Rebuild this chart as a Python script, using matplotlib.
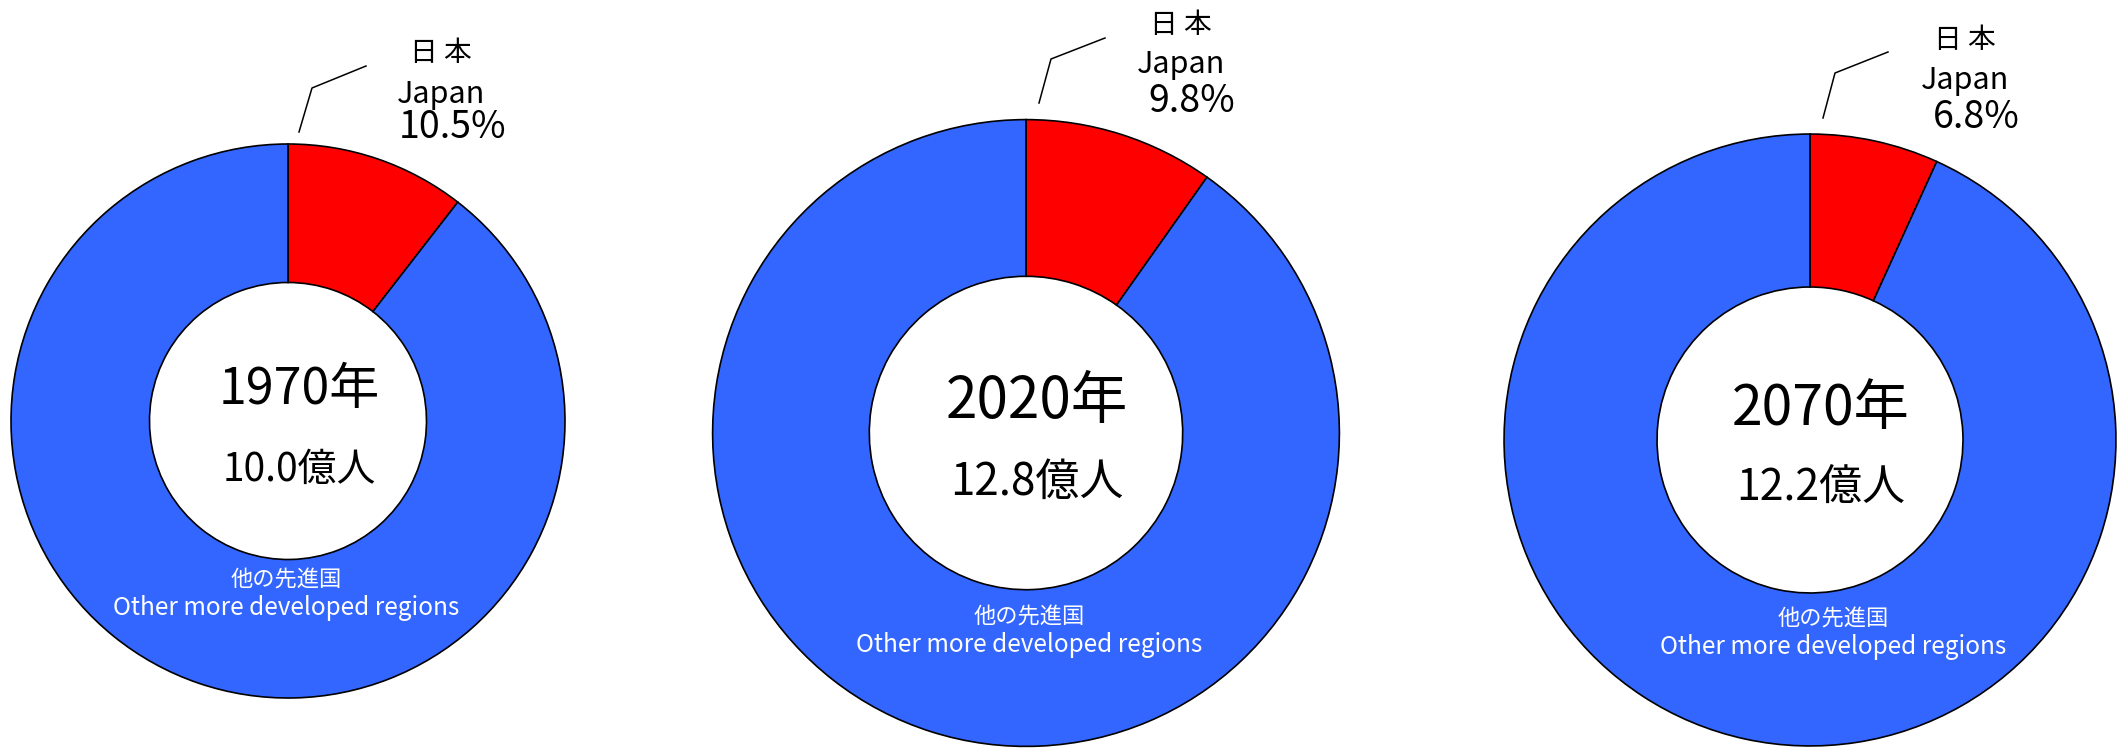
import matplotlib
matplotlib.use('Agg')
import matplotlib.pyplot as plt
import numpy as np

plt.rcParams['font.family'] = ['Noto Sans CJK JP', 'DejaVu Sans']

# データ
years = ['1970年', '2020年', '2070年']
population = [10.0, 12.8, 12.2]      # 先進地域の人口(億人)
japan_share = [10.5, 9.8, 6.8]       # 日本の割合(%)
other_label = '他の先進国\nOther more developed regions'

RED = '#FF0000'
BLUE = '#3366FF'

W, H = 2125, 749
fig = plt.figure(figsize=(W / 100, H / 100), dpi=100)
ax = fig.add_axes([0, 0, 1, 1])
ax.set_xlim(0, W)
ax.set_ylim(0, H)
ax.set_aspect('equal')
ax.axis('off')

# 円の中心(ピクセル, 上から)と基準半径
centers = [(288, 421), (1026, 433), (1810, 440)]
base_r = 277
# 日本ラベルの位置と引き出し線
label_pos = [(441, 453), (1181, 1192), (1965, 1976)]
label_y = [(53, 95, 128), (25, 65, 102), (40, 80, 118)]
leader = [[(299, 132), (312, 88), (366, 66)],
          [(1039, 103), (1051, 59), (1105, 38)],
          [(1823, 118), (1835, 73), (1888, 52)]]
other_dx = [-2, 3, 23]

for i in range(3):
    cx, cy = centers[i]
    k = np.sqrt(population[i] / population[0])   # 面積を人口に比例
    r = base_r * k
    vals = [japan_share[i], 100 - japan_share[i]]
    ax.pie(vals, colors=[RED, BLUE], startangle=90, counterclock=False,
           center=(cx, H - cy), radius=r, frame=True,
           wedgeprops=dict(width=r * 0.5, edgecolor='black', linewidth=1.2))

    # 中央の文字
    ax.text(cx + 11, H - (cy - 31), years[i], ha='center', va='center',
            fontsize=36 * k, color='black')
    ax.text(cx + 11, H - (cy + 49), f'{population[i]:.1f}億人', ha='center',
            va='center', fontsize=28 * k, color='black')

    # 他の先進国
    ax.text(cx + other_dx[i], H - (cy + 159 + 25 * (k - 1) / 0.13), '他の先進国',
            ha='center', va='center', fontsize=16, color='white')
    ax.text(cx + other_dx[i], H - (cy + 187 + 25 * (k - 1) / 0.13),
            'Other more developed regions',
            ha='center', va='center', fontsize=17.5, color='white')

    # 日本ラベル
    xs = [p[0] for p in leader[i]]
    ys = [H - p[1] for p in leader[i]]
    ax.plot(xs, ys, color='black', linewidth=1.1)
    xj, xp = label_pos[i]
    y1, y2, y3 = label_y[i]
    ax.text(xj, H - y1, '日 本', ha='center', va='center', fontsize=20)
    ax.text(xj, H - y2, 'Japan', ha='center', va='center', fontsize=22)
    ax.text(xp, H - y3, f'{japan_share[i]}%', ha='center', va='center', fontsize=27)

ax.set_xlim(0, W)
ax.set_ylim(0, H)
ax.axis('off')

fig.savefig('out.png', dpi=100)
